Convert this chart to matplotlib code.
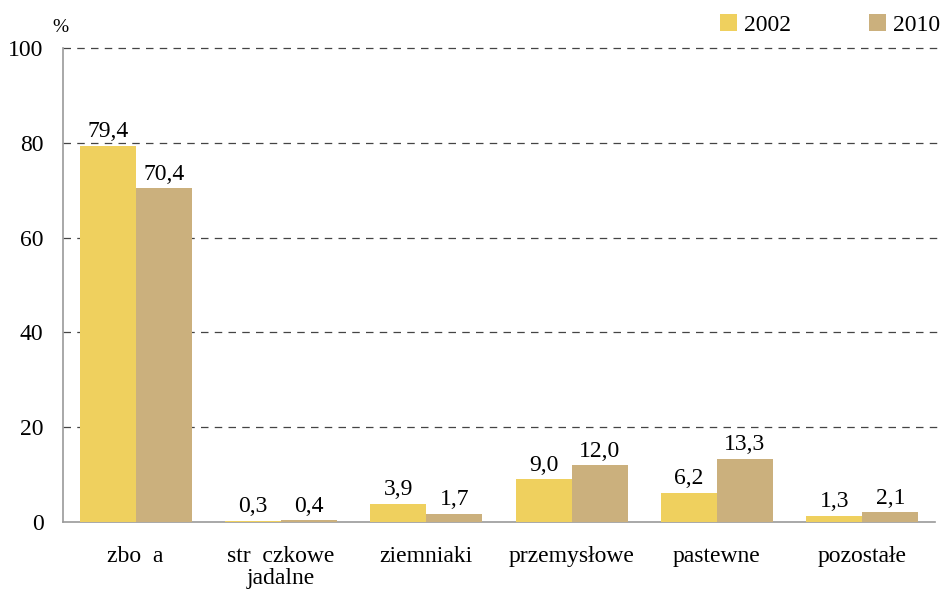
import matplotlib
matplotlib.use("Agg")
import matplotlib.pyplot as plt
import numpy as np

categories = ["zbo  a", "str  czkowe\njadalne", "ziemniaki", "przemysłowe", "pastewne", "pozostałe"]
values_2002 = [79.4, 0.3, 3.9, 9.0, 6.2, 1.3]
values_2010 = [70.4, 0.4, 1.7, 12.0, 13.3, 2.1]
series_names = ["2002", "2010"]
yticks = [0, 20, 40, 60, 80, 100]

c2002 = "#EFD05E"
c2010 = "#CBB07D"

plt.rcParams['font.family'] = ['Liberation Serif', 'DejaVu Serif']

fig = plt.figure(figsize=(9.45, 5.95), dpi=100)
ax = fig.add_axes([63/945, 73/595, (935-63)/945, (522-48)/595])

x = np.arange(len(categories))
w = 0.385
b1 = ax.bar(x - w/2, values_2002, w, color=c2002, label=series_names[0], zorder=3)
b2 = ax.bar(x + w/2, values_2010, w, color=c2010, label=series_names[1], zorder=3)

def fmt(v):
    return f"{v:.1f}".replace(".", ",")

for bars, vals in ((b1, values_2002), (b2, values_2010)):
    for r, v in zip(bars, vals):
        ax.annotate(fmt(v), (r.get_x() + r.get_width()/2, v), xytext=(0, 2.5),
                    textcoords="offset points", ha="center", va="bottom", fontsize=17)

ax.set_xlim(-0.5, len(categories) - 0.5)
ax.set_ylim(0, 100)
ax.set_yticks(yticks)
ax.set_yticklabels([str(t) for t in yticks], fontsize=17)
ax.set_xticks(x)
ax.set_xticklabels(categories, fontsize=17, linespacing=1.1)
ax.tick_params(axis='both', length=0)
ax.tick_params(axis='y', pad=14)
ax.tick_params(axis='x', pad=17)

for t in yticks[1:]:
    ax.axhline(t, color="#444444", lw=0.9, ls=(0, (6, 5)), zorder=1, xmax=1.005, clip_on=False)

for s in ["top", "right"]:
    ax.spines[s].set_visible(False)
for s in ["left", "bottom"]:
    ax.spines[s].set_color("#999999")
    ax.spines[s].set_linewidth(1.2)

fig.text(52/945, 1 - 28/595, "%", fontsize=14, ha="left", va="center")

fig.legend(handles=[b1, b2], labels=series_names, loc="center right", bbox_to_anchor=(940/945, 1 - 25/595),
           ncol=2, frameon=False, fontsize=17, handlelength=0.72, handleheight=0.72,
           handletextpad=0.3, columnspacing=3.3, borderpad=0, borderaxespad=0)

fig.savefig("out.png", dpi=100)
